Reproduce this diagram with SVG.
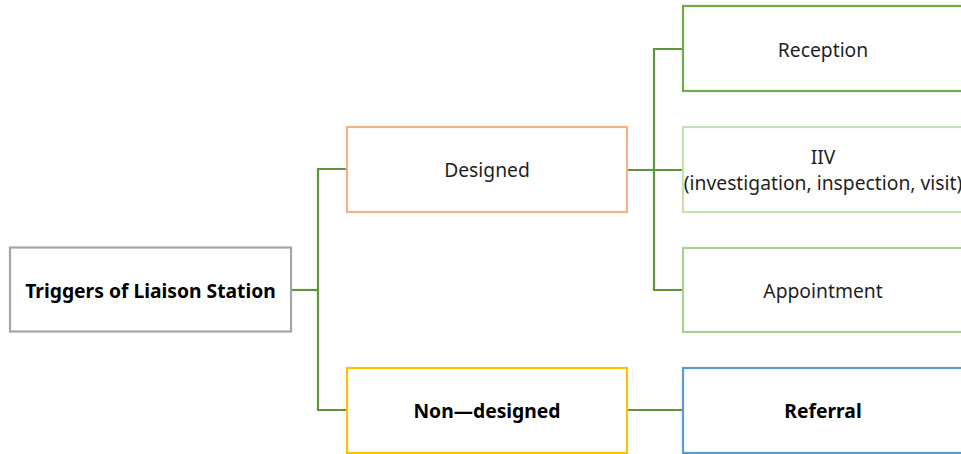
<svg xmlns="http://www.w3.org/2000/svg" width="961" height="454" viewBox="0 0 961 454">
  <style>
    .box { fill: #ffffff; stroke-width: 2.2; }
    .link { fill: none; stroke: #5e963b; stroke-width: 2.2; }
    .t { font-family: "Noto Sans", "Liberation Sans", sans-serif; font-size: 19.3px; fill: #1f1f1f; text-anchor: middle; dominant-baseline: central; }
    .b { font-weight: bold; fill: #000000; }
  </style>

  <g id="connectors">
    <polyline class="link" points="291,290 318,290"/>
    <polyline class="link" points="347,169 318,169 318,410 347,410"/>
    <polyline class="link" points="627,170 683,170"/>
    <polyline class="link" points="683,49 654,49 654,290 683,290"/>
    <polyline class="link" points="627,410 683,410"/>
  </g>

  <g id="root">
    <rect class="box" x="10" y="247.5" width="281" height="84" stroke="#a6a6a6"/>
    <text class="t b" x="150.5" y="290">Triggers of Liaison Station</text>
  </g>

  <g id="designed">
    <rect class="box" x="347" y="127" width="280" height="85" stroke="#f4b183"/>
    <text class="t" x="487" y="169">Designed</text>
  </g>

  <g id="non-designed">
    <rect class="box" x="347" y="368" width="280" height="85" stroke="#ffc000"/>
    <text class="t b" x="487" y="410">Non—designed</text>
  </g>

  <g id="reception">
    <rect class="box" x="683" y="6" width="282" height="85" stroke="#70ad47"/>
    <text class="t" x="823" y="49">Reception</text>
  </g>

  <g id="iiv">
    <rect class="box" x="683" y="127" width="282" height="85" stroke="#c5e0b4"/>
    <text class="t" x="823" y="156">IIV</text>
    <text class="t" x="823" y="182">(investigation, inspection, visit)</text>
  </g>

  <g id="appointment">
    <rect class="box" x="683" y="248" width="282" height="84" stroke="#a9d18e"/>
    <text class="t" x="823" y="290">Appointment</text>
  </g>

  <g id="referral">
    <rect class="box" x="683" y="368" width="282" height="85" stroke="#5b9bd5"/>
    <text class="t b" x="823" y="410">Referral</text>
  </g>
</svg>
